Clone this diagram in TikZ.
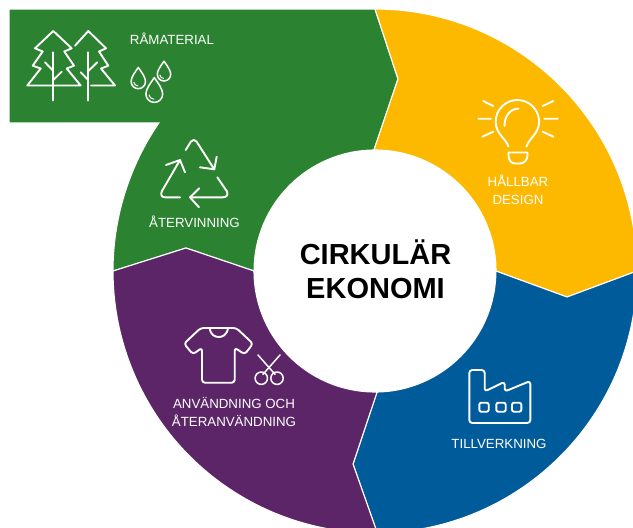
\documentclass[tikz,border=0pt]{standalone}
\usepackage{fontspec}
\setmainfont{Liberation Sans}
\definecolor{cgreen}{HTML}{2B8230}
\definecolor{cyellow}{HTML}{FDB900}
\definecolor{cblue}{HTML}{005B9A}
\definecolor{cpurple}{HTML}{5C2568}
\tikzset{
  segment/.style={draw=white,line width=1.1pt,line join=miter},
  icon/.style={draw=white,line width=1.9pt,line cap=round,line join=round},
  label/.style={text=white,font=\fontsize{13.3}{18}\selectfont,align=center,inner sep=0pt},
  title/.style={text=black,font=\fontsize{29}{34}\selectfont\bfseries,align=center,inner sep=0pt}
}
\newcommand{\raindropicon}[3]{%
  \begin{scope}[shift={(#1,#2)}]
    \draw[icon,line width=1.5pt] (0,-1.95*#3) .. controls (0.45*#3,-1.3*#3) and (#3,-0.6*#3) .. (#3,0)
      .. controls (#3,0.55*#3) and (0.55*#3,#3) .. (0,#3)
      .. controls (-0.55*#3,#3) and (-#3,0.55*#3) .. (-#3,0)
      .. controls (-#3,-0.6*#3) and (-0.45*#3,-1.3*#3) .. cycle;
    \draw[icon,line width=1pt] (-0.62*#3,0.1*#3) .. controls (-0.6*#3,0.4*#3) and (-0.35*#3,0.6*#3) .. (-0.05*#3,0.62*#3);
  \end{scope}}
\begin{document}
\begin{tikzpicture}[x=1pt,y=1pt,yscale=-1]
\useasboundingbox (0,0) rectangle (633,528);
\clip (0,0) rectangle (633,528);
\fill[white] (0,0) rectangle (633,528);
% segments
\path[segment,fill=cgreen] (113,271) arc[start angle=180,end angle=214.4,radius=262pt]
  -- (9,123) -- (9,9) -- (375,9) -- (398,79) -- (374,150)
  arc[start angle=-90.5,end angle=-180,radius=121pt] -- (186,248) -- cycle;
\path[segment,fill=cyellow] (375,9) arc[start angle=-90,end angle=0,radius=262pt]
  -- (567,297) -- (496,271) arc[start angle=0,end angle=-90.5,radius=121pt] -- (398,79) -- cycle;
\path[segment,fill=cblue] (637,271) arc[start angle=0,end angle=89.5,radius=262pt]
  -- (353,464) -- (377,392) arc[start angle=89,end angle=0,radius=121pt] -- (567,297) -- cycle;
\path[segment,fill=cpurple] (377.3,533) arc[start angle=89.5,end angle=180,radius=262pt]
  -- (186,248) -- (254,271) arc[start angle=180,end angle=89,radius=121pt] -- (353,464) -- cycle;
\fill[white] (375,271) circle[radius=120.5pt];
% trees
\draw[icon] (53.3,31) -- (71.7,48.3) -- (64.3,51.5) -- (74,65.7) -- (66.7,68.5) -- (80.7,85.5) -- (27.3,85.5)
  -- (40.7,68.5) -- (32.7,65.7) -- (42.7,51.5) -- (35,48.3) -- cycle;
\draw[icon] (53.3,52.3) -- (53.3,100.5);
\draw[icon] (45,62.3) -- (53.3,71);
\draw[icon] (61.7,71.7) -- (53.3,80);
\draw[icon] (75,45.7) -- (88.3,31) -- (106,48.3) -- (99,51.5) -- (108.3,65.7) -- (101,68.5) -- (115,85.5) -- (91,85.5);
\draw[icon] (88.3,52.3) -- (88.3,100.5);
\draw[icon] (97.3,62.3) -- (88.3,71);
\draw[icon] (80.7,72.3) -- (88.3,80);
% drops
\raindropicon{138.3}{81.5}{7.2}
\raindropicon{164}{74.3}{6.7}
\raindropicon{154.3}{94}{8.4}
% recycle
\draw[icon] (185.7,150) -- (191,141.5) .. controls (192.5,139.5) and (195,139.5) .. (196.5,141.5) -- (214.3,169.3);
\draw[icon] (216.7,156.7) -- (214.3,169.3) -- (200,167.3);
\draw[icon] (180,160) -- (162,191) .. controls (160,195) and (162,197.3) .. (165,197.3) -- (180,197.3);
\draw[icon] (166,165) -- (180,160) -- (185,172.3);
\draw[icon] (217.3,177.3) -- (227,191.5) .. controls (228.5,195) and (226.5,197.3) .. (223,197.3) -- (190,197.3);
\draw[icon] (199.3,188.3) -- (190,197.3) -- (199,207.3);
% bulb
\draw[icon] (483.3,101) -- (493.3,106) (478.3,118.7) -- (491,118.7) (482.3,136.7) -- (493.3,131.7);
\draw[icon] (553.3,101) -- (542.7,106) (544.3,118.7) -- (557.7,118.7) (542.7,131.7) -- (553.3,136.7);
\draw[icon] (508.5,146.5) .. controls (505.5,138) and (495.7,134) .. (495.7,121.7)
  arc[start angle=180,end angle=360,radius=21.7pt] .. controls (539,134) and (529,138) .. (526.5,146.5);
\draw[icon] (504.5,126) .. controls (504.5,116) and (510,109) .. (518.5,108.5);
\draw[icon] (508.5,152.5) -- (527.5,152.5) -- (527.5,155) .. controls (527.5,160) and (524,163.5) .. (520,163.5)
  -- (515,163.5) .. controls (511,163.5) and (508.5,160) .. (508.5,155) -- cycle;
% shirt
\draw[icon,rounded corners=3pt] (209.7,328) -- (200.7,328) -- (184,343.7) -- (193,354.3) -- (202,347.7) -- (202,382.7)
  -- (234.7,382.7) -- (234.7,347.7) -- (244.7,354.3) -- (253,343.7) -- (236.3,328) -- (228,328);
\draw[icon] (209.7,328) -- (228,328);
\draw[icon] (209.7,328) .. controls (210.5,335) and (215,337) .. (218.8,337) .. controls (222.5,337) and (227,335) .. (228,328);
% scissors
\draw[icon,line width=1.5pt] (258,355) -- (275,374.3) (280,355) -- (263,374.3);
\draw[icon,line width=1.5pt] (261.3,378.2) circle[radius=6.2pt] (277,378.2) circle[radius=6.2pt];
% factory
\draw[icon,rounded corners=3pt] (469.3,370) -- (484.7,370) -- (484.7,391.5) -- (504.7,381.7) -- (504.7,391.5)
  -- (530.3,381) -- (530.3,423) -- (469.3,423) -- cycle;
\draw[icon,rounded corners=2pt] (479.3,402.7) rectangle (488.7,411.7);
\draw[icon,rounded corners=2pt] (496.3,402.7) rectangle (505.7,411.7);
\draw[icon,rounded corners=2pt] (512,402.7) rectangle (521.3,411.7);
% labels
\node[label] (raw) at (172,39) {RÅMATERIAL};
\node[label] (recycling) at (194.5,221.5) {ÅTERVINNING};
\node[label] (design) at (518,190) {HÅLLBAR\\DESIGN};
\node[label] (use) at (234,412) {ANVÄNDNING OCH\\ÅTERANVÄNDNING};
\node[label] (making) at (499,443.5) {TILLVERKNING};
\node[title] (center) at (375.5,269.5) {CIRKULÄR\\EKONOMI};
\end{tikzpicture}
\end{document}
